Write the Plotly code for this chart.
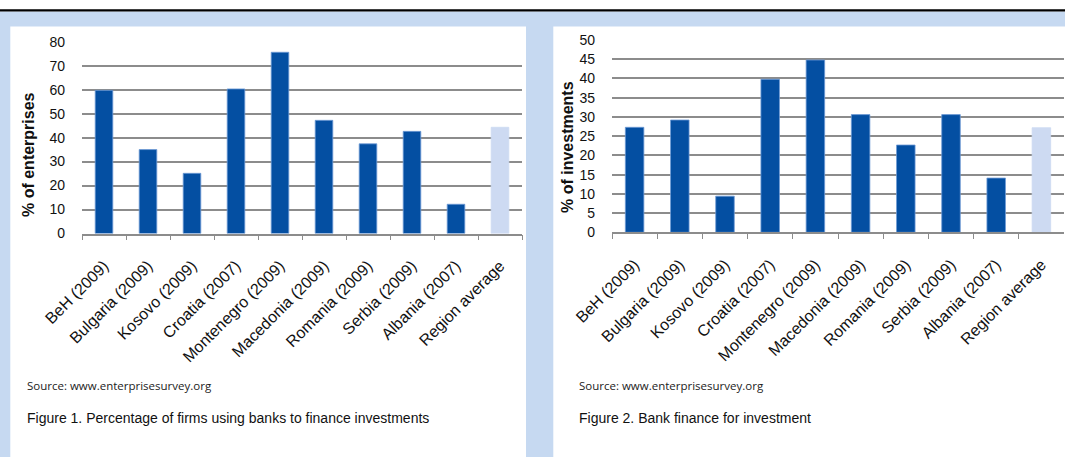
import plotly.graph_objects as go

W, H = 1065, 457

categories = ["BeH (2009)", "Bulgaria (2009)", "Kosovo (2009)", "Croatia (2007)",
              "Montenegro (2009)", "Macedonia (2009)", "Romania (2009)", "Serbia (2009)",
              "Albania (2007)", "Region average"]
enterprises_pct = [59.7, 35.0, 25.1, 60.3, 75.6, 47.2, 37.4, 42.6, 12.2, 44.3]
investments_pct = [27.3, 29.2, 9.4, 39.8, 44.8, 30.6, 22.7, 30.6, 14.1, 27.2]

DARK = "#044FA2"
LIGHT = "#CDDAF2"
BLUE_BG = "#C6D9F1"
GRID = "#8C8C8C"
colors = [DARK] * (len(categories) - 1) + [LIGHT]
edge = ["#6E9AD6"] * (len(categories) - 1) + [LIGHT]


def px(x):
    return x / W


def py(y):
    return 1 - y / H


fig = go.Figure()
fig.add_trace(go.Bar(x=categories, y=enterprises_pct, marker=dict(color=colors, line=dict(color=edge, width=0.8)),
                     width=0.4, xaxis="x", yaxis="y", showlegend=False))
fig.add_trace(go.Bar(x=categories, y=investments_pct, marker=dict(color=colors, line=dict(color=edge, width=0.8)),
                     width=0.41, xaxis="x2", yaxis="y2", showlegend=False))

font_main = "Liberation Sans, Arial, sans-serif"

xcommon = dict(type="category", showgrid=False, showline=True, linecolor=GRID, linewidth=1.5,
               ticks="outside", tickson="boundaries", ticklen=5, tickcolor=GRID, tickwidth=1.2,
               tickangle=-45, tickfont=dict(family=font_main, size=16, color="#111"),
               ticklabelstandoff=15, fixedrange=True, automargin=False)
ycommon = dict(showgrid=True, gridcolor=GRID, gridwidth=1.5, zeroline=False, showline=False,
               ticks="", tickfont=dict(family=font_main, size=14, color="#111"),
               ticklabelstandoff=16, fixedrange=True, automargin=False)

shapes = [
    dict(type="rect", xref="paper", yref="paper", x0=0, x1=1, y0=0, y1=py(11.5),
         fillcolor=BLUE_BG, line=dict(width=0), layer="below"),
    dict(type="rect", xref="paper", yref="paper", x0=0, x1=1, y0=py(11.5), y1=py(9.3),
         fillcolor="black", line=dict(width=0), layer="below"),
    dict(type="rect", xref="paper", yref="paper", x0=px(10.3), x1=px(526), y0=0, y1=py(26.5),
         fillcolor="white", line=dict(width=0), layer="below"),
    dict(type="rect", xref="paper", yref="paper", x0=px(553.3), x1=1, y0=0, y1=py(26.5),
         fillcolor="white", line=dict(width=0), layer="below"),
]

annotations = [
    dict(text="<b>% of enterprises</b>", xref="paper", yref="paper", x=px(28), y=py(155),
         xanchor="center", yanchor="middle", textangle=-90, showarrow=False,
         font=dict(family=font_main, size=16, color="#111")),
    dict(text="<b>% of investments</b>", xref="paper", yref="paper", x=px(567), y=py(147),
         xanchor="center", yanchor="middle", textangle=-90, showarrow=False,
         font=dict(family=font_main, size=16, color="#111")),
    dict(text="Source: www.enterprisesurvey.org", xref="paper", yref="paper", x=px(25), y=py(385),
         xanchor="left", yanchor="middle", showarrow=False,
         font=dict(family="Open Sans, sans-serif", size=11.5, color="#222")),
    dict(text="Source: www.enterprisesurvey.org", xref="paper", yref="paper", x=px(577), y=py(385),
         xanchor="left", yanchor="middle", showarrow=False,
         font=dict(family="Open Sans, sans-serif", size=11.5, color="#222")),
    dict(text="Figure 1. Percentage of firms using banks to finance investments", xref="paper", yref="paper",
         x=px(25), y=py(418), xanchor="left", yanchor="middle", showarrow=False,
         font=dict(family=font_main, size=14, color="#111")),
    dict(text="Figure 2. Bank finance for investment", xref="paper", yref="paper",
         x=px(577), y=py(418), xanchor="left", yanchor="middle", showarrow=False,
         font=dict(family=font_main, size=14, color="#111")),
]

fig.update_layout(
    width=W, height=H, margin=dict(l=0, r=0, t=0, b=0, autoexpand=False),
    paper_bgcolor="white", plot_bgcolor="white",
    xaxis=dict(domain=[px(82), px(522)], anchor="y", **xcommon),
    yaxis=dict(domain=[py(233.5), py(41.7)], anchor="x", range=[0, 80], dtick=10, **ycommon),
    xaxis2=dict(domain=[px(612), px(1064)], anchor="y2", **xcommon),
    yaxis2=dict(domain=[py(232.3), py(40)], anchor="x2", range=[0, 50], dtick=5, **ycommon),
    shapes=shapes, annotations=annotations, showlegend=False,
)

fig.write_html("out.html")
